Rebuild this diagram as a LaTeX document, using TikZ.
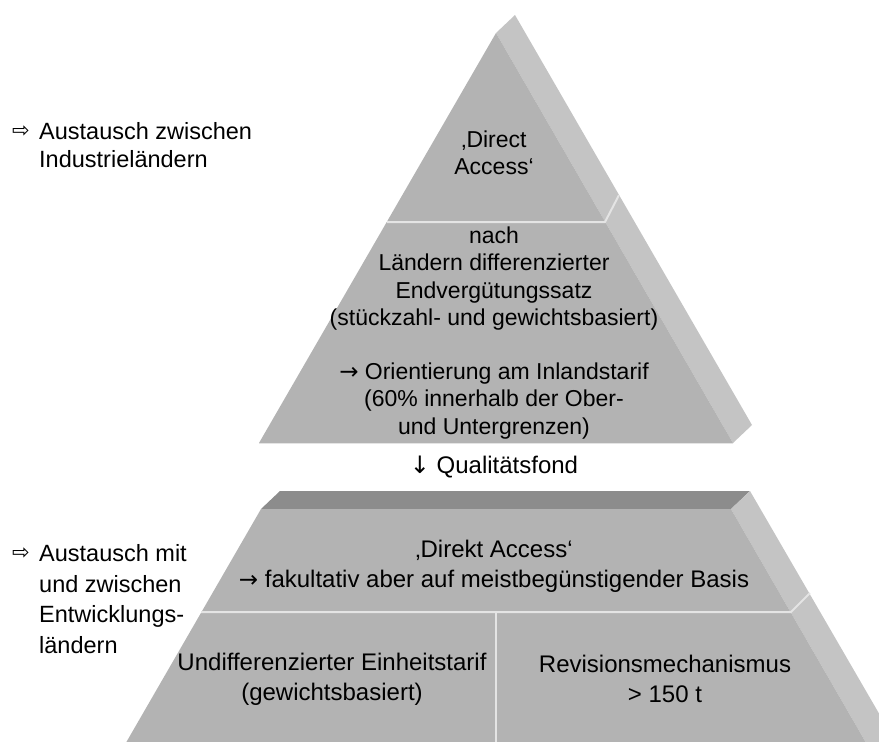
\documentclass[tikz,border=0pt]{standalone}
\usepackage{fontspec}
\setmainfont{Liberation Sans}
\newfontfamily\arrowfont{DejaVu Sans}
\newcommand{\rightsym}{{\arrowfont\fontsize{23}{23}\selectfont →}}
\newcommand{\downsym}{{\arrowfont\fontsize{24}{24}\selectfont ↓}}
\definecolor{frontgray}{RGB}{179,179,179}
\definecolor{sidegray}{RGB}{196,196,196}
\definecolor{topgray}{RGB}{140,140,140}
\definecolor{seamgray}{RGB}{228,228,228}

\begin{document}
\begin{tikzpicture}[x=1pt, y=-1pt,
    seam/.style={draw=seamgray, line width=2pt},
    pyrtext/.style={align=center, inner sep=0pt, font=\fontsize{23}{27.2}\selectfont},
    basetext/.style={align=center, inner sep=0pt, font=\fontsize{24}{30}\selectfont},
    notetext/.style={align=left, inner sep=0pt, anchor=west, font=\fontsize{23.5}{28}\selectfont},
    notearrow/.style={inner sep=0pt, font=\arrowfont\fontsize{21}{21}\selectfont}]
    \useasboundingbox (0, 0) rectangle (879, 742);

    \coordinate (TA) at (496, 33);
    \coordinate (TB) at (515, 15);
    \coordinate (TL) at (259, 443);
    \coordinate (TR) at (733, 443);
    \coordinate (TS) at (752, 425);
    \coordinate (TSL) at (387, 222);
    \coordinate (TSR) at (605, 222);
    \coordinate (TSS) at (619, 195);

    \coordinate (BTL) at (280, 491);
    \coordinate (BTR) at (750, 491);
    \coordinate (BFL) at (261, 509);
    \coordinate (BFR) at (731, 509);
    \coordinate (BBL) at (116, 760);
    \coordinate (BBR) at (876, 760);
    \coordinate (BBS) at (906, 760);
    \coordinate (BSL) at (201, 612);
    \coordinate (BSR) at (791, 612);
    \coordinate (BSS) at (810, 593);
    \coordinate (BVT) at (496, 612);
    \coordinate (BVB) at (496, 760);

    \fill[sidegray] (TA) -- (TB) -- (TS) -- (TR) -- cycle;
    \fill[frontgray] (TA) -- (TR) -- (TL) -- cycle;
    \draw[seam] (TSL) -- (TSR) -- (TSS);
    \draw[seamgray, line width=1pt] (TL) -- (TR);

    \begin{scope}
        \clip (0, 0) rectangle (879, 742);
        \fill[topgray] (BFL) -- (BTL) -- (BTR) -- (BFR) -- cycle;
        \fill[sidegray] (BFR) -- (BTR) -- (BBS) -- (BBR) -- cycle;
        \fill[frontgray] (BFL) -- (BFR) -- (BBR) -- (BBL) -- cycle;
        \draw[seam] (BSL) -- (BSR) -- (BSS);
        \draw[seam] (BVT) -- (BVB);
    \end{scope}

    \node[pyrtext] (direct) at (494, 153) {‚Direct\\Access‘};
    \node[pyrtext] (endverg) at (494, 333) {nach\\Ländern differenzierter\\Endvergütungssatz\\(stückzahl- und gewichtsbasiert)\\[27.2pt]\rightsym{} Orientierung am Inlandstarif\\(60\% innerhalb der Ober-\\und Untergrenzen)};
    \node[basetext] (fond) at (494, 467) {\downsym{} Qualitätsfond};
    \node[basetext] (direkt) at (494, 566) {‚Direkt Access‘\\\rightsym{} fakultativ aber auf meistbegünstigender Basis};
    \node[basetext] (einheit) at (332, 679) {Undifferenzierter Einheitstarif\\(gewichtsbasiert)};
    \node[basetext] (revision) at (665, 679) {Revisionsmechanismus\\> 150 t};

    \node[notearrow] (arrowind) at (21, 132) {⇨};
    \node[notetext] (industrie) at (39, 145) {Austausch zwischen\\Industrieländern};
    \node[notearrow] (arrowent) at (21, 554) {⇨};
    \node[notetext, font=\fontsize{23.5}{30.5}\selectfont] (entwicklung) at (39, 599) {Austausch mit\\und zwischen\\Entwicklungs-\\ländern};
\end{tikzpicture}
\end{document}
